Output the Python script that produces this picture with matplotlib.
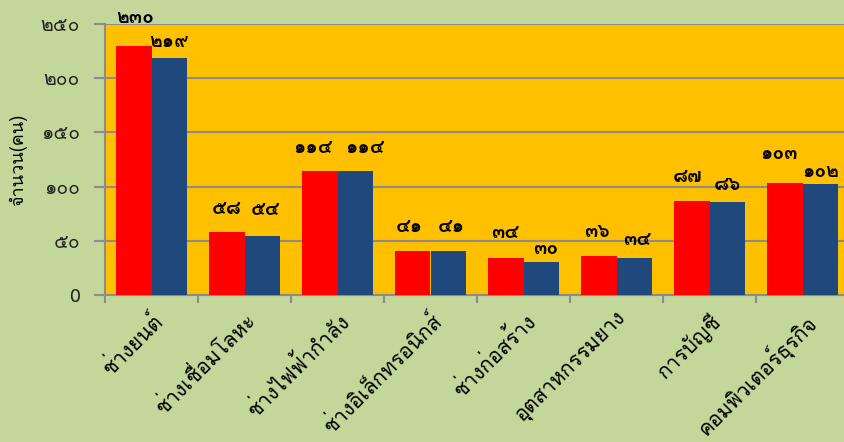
import numpy as np
import matplotlib
matplotlib.use("Agg")
import matplotlib.pyplot as plt
from matplotlib import font_manager as fm
from matplotlib.ft2font import FT2Font

categories = ["ช่างยนต์", "ช่างเชื่อมโลหะ", "ช่างไฟฟ้ากำลัง", "ช่างอิเล็กทรอนิกส์",
              "ช่างก่อสร้าง", "อุตสาหกรรมยาง", "การบัญชี", "คอมพิวเตอร์ธุรกิจ"]
red_vals = [230, 58, 114, 41, 34, 36, 87, 103]
blue_vals = [219, 54, 114, 41, 30, 34, 86, 102]
y_ticks = [0, 50, 100, 150, 200, 250]
y_label = "จำนวน(คน)"

# label offsets from the bar tops (points), as placed in the original
red_dy = [20, 17, 17, 17, 18, 17, 17, 21]
blue_dy = [11, 19, 17, 17, 10, 13, 12, 9]
red_dx = [1, 0, -5, -2, 0, -1, -3, -4]
blue_dx = [0, 2, 7, 2, 3, 2, 0, 0]

thai_digits = "๐๑๒๓๔๕๖๗๘๙"
def thai(n):
    return "".join(thai_digits[int(c)] for c in str(n))

# find any installed font with thai glyphs
fams = []
for f in fm.fontManager.ttflist:
    if f.name in fams:
        continue
    try:
        if FT2Font(f.fname).get_char_index(ord("ก")) != 0:
            fams.append(f.name)
    except Exception:
        pass
plt.rcParams["font.family"] = fams + ["DejaVu Sans"]

bg = "#C4D79B"
fig = plt.figure(figsize=[8.44, 4.42], dpi=100, facecolor=bg)
ax = fig.add_axes([105/844, 1-295/442, 744/844, (295-24)/442])
ax.set_facecolor("#FFC000")

x = np.arange(len(categories))
w = 0.387
ax.bar(x - w/2, red_vals, w, color="#FF0000", zorder=3)
ax.bar(x + w/2, blue_vals, w, color="#1F497D", zorder=3)

for i in range(len(x)):
    ax.annotate(thai(red_vals[i]), (x[i]-w/2, red_vals[i]), xytext=(red_dx[i], red_dy[i]),
                textcoords="offset points", ha="center", va="center",
                fontsize=14, fontweight="bold", annotation_clip=False)
    ax.annotate(thai(blue_vals[i]), (x[i]+w/2, blue_vals[i]), xytext=(blue_dx[i], blue_dy[i]),
                textcoords="offset points", ha="center", va="center",
                fontsize=14, fontweight="bold", annotation_clip=False)

ax.set_xlim(-0.5, len(x)-0.5)
ax.set_ylim(0, 250)
ax.set_yticks(y_ticks)
ax.set_yticklabels(["0"] + [thai(v) for v in y_ticks[1:]], fontsize=14, color="#222222")
ax.yaxis.grid(True, color="#8C8C8C", linewidth=1.5, zorder=1)
ax.set_axisbelow(True)

ax.set_xticks(np.arange(len(x)+1) - 0.5, minor=False)
ax.set_xticklabels([])
ax.set_xticks(x, minor=True)
ax.set_xticklabels(categories, minor=True, rotation=45, ha="right", va="top",
                   rotation_mode="anchor", fontsize=15)
ax.tick_params(axis="x", which="minor", length=0, pad=10)
ax.tick_params(axis="x", which="major", length=6, width=1.5, color="#8C8C8C")
ax.tick_params(axis="y", length=8, width=1.5, color="#8C8C8C", pad=10)

for s in ["top", "right"]:
    ax.spines[s].set_visible(False)
for s in ["left", "bottom"]:
    ax.spines[s].set_color("#8C8C8C")
    ax.spines[s].set_linewidth(1.5)

ax.set_ylabel(y_label, fontsize=13)
ax.yaxis.set_label_coords(-0.105, 0.5)

plt.savefig("out.png", dpi=100, facecolor=bg)
